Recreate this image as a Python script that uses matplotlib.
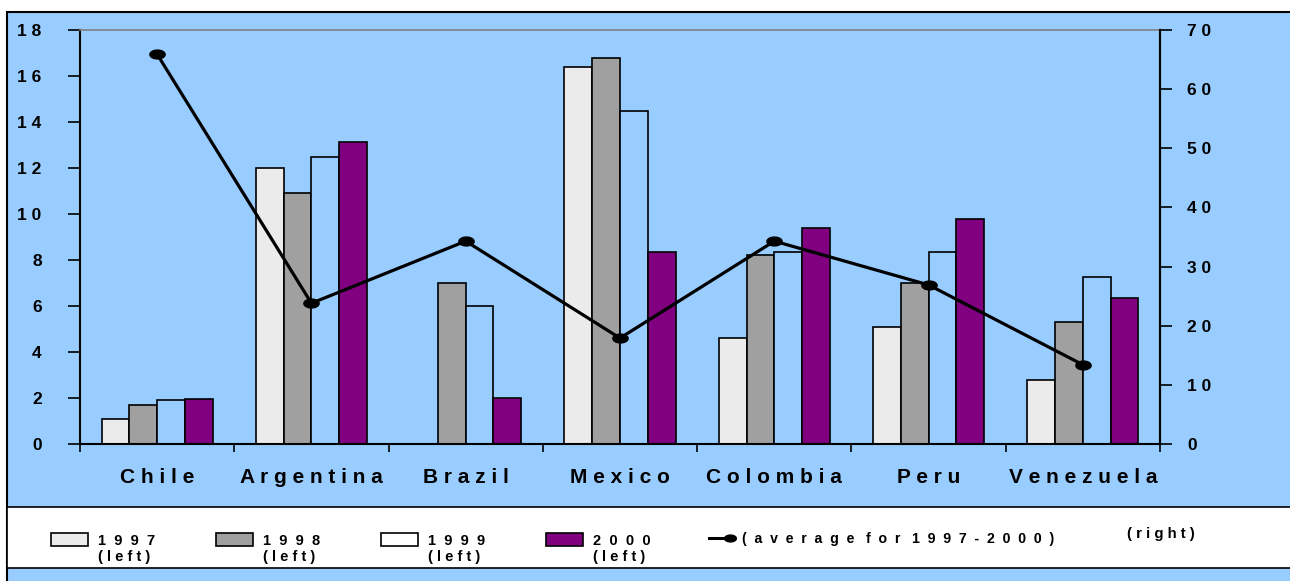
import matplotlib
matplotlib.use("Agg")
import matplotlib.pyplot as plt
from matplotlib.patches import Rectangle
from matplotlib.lines import Line2D
from matplotlib.path import Path
import numpy as np

plt.rcParams['font.family'] = ['Liberation Sans', 'DejaVu Sans']

countries = ["Chile", "Argentina", "Brazil", "Mexico", "Colombia", "Peru", "Venezuela"]
years = ["1997", "1998", "1999", "2000"]
v1997 = [1.1, 12.0, 0.0, 16.4, 4.6, 5.1, 2.8]
v1998 = [1.7, 10.9, 7.0, 16.8, 8.2, 7.0, 5.3]
v1999 = [1.9, 12.5, 6.0, 14.5, 8.35, 8.35, 7.25]
v2000 = [1.95, 13.15, 2.0, 8.35, 9.4, 9.8, 6.35]
average = [65.9, 23.8, 34.3, 17.9, 34.3, 26.9, 13.4]
left_ticks = [0, 2, 4, 6, 8, 10, 12, 14, 16, 18]
right_ticks = [0, 10, 20, 30, 40, 50, 60, 70]

BG = "#99CCFF"
colors = ["#EBEBEB", "#A0A0A0", BG, "#800080"]
series = [v1997, v1998, v1999, v2000]

# elliptical marker (wider than tall)
t = np.linspace(0, 2 * np.pi, 40)
ellipse = Path(np.column_stack([np.cos(t), 0.58 * np.sin(t)]), closed=True)

W, H = 1290, 581
fig = plt.figure(figsize=(W / 100, H / 100), dpi=100)
fig.patch.set_facecolor("white")

def fx(px):
    return px / W

def fy(py):
    return 1 - py / H

# blue panel
fig.patches.append(Rectangle((fx(7), -0.1), 1.2, fy(12) + 0.1, transform=fig.transFigure,
                             facecolor=BG, edgecolor="black", linewidth=1.5, zorder=-5))
# legend box
fig.patches.append(Rectangle((fx(7), fy(568)), 1.2, fy(507) - fy(568), transform=fig.transFigure,
                             facecolor="white", edgecolor="black", linewidth=1.2, zorder=-4))

def spaced(s, sep=" "):
    return sep.join(s)

ax = fig.add_axes([fx(80), fy(444), fx(1160) - fx(80), fy(30) - fy(444)])
ax.set_facecolor("none")
n = len(countries)
x = np.arange(n)
w = 0.18
for k, (vals, c) in enumerate(zip(series, colors)):
    ax.bar(x + (k - 1.5) * w, vals, w, color=c, edgecolor="black", linewidth=1.2, zorder=2)

ax.set_xlim(-0.5, n - 0.5)
ax.set_ylim(0, 18)
ax.set_yticks(left_ticks)
ax.set_yticklabels([spaced(str(t)) for t in left_ticks], fontsize=12.5, fontweight="bold")
ax.set_xticks(np.arange(-0.5, n, 1.0))
ax.set_xticklabels([])
ax.set_xticks(x, minor=True)
ax.set_xticklabels([spaced(c) for c in countries], minor=True, fontsize=15, fontweight="bold")
ax.tick_params(axis="x", which="major", direction="out", length=6, width=1.2)
ax.tick_params(axis="x", which="minor", length=0, pad=17)
ax.tick_params(axis="y", direction="out", length=8.6, width=1.2, pad=19)
for s in ["left", "right", "bottom"]:
    ax.spines[s].set_linewidth(1.5)
ax.spines["top"].set_color("#808080")
ax.spines["top"].set_linewidth(1.2)

ax2 = ax.twinx()
ax2.set_ylim(0, 70)
ax2.set_yticks(right_ticks)
ax2.set_yticklabels([spaced(str(t)) for t in right_ticks], fontsize=12.5, fontweight="bold")
ax2.tick_params(axis="y", direction="out", length=8.6, width=1.2, pad=11)
ax2.plot(x, average, color="black", linewidth=2.3, marker=ellipse, markersize=11, zorder=5)
for s in ax2.spines.values():
    s.set_visible(False)
ax2.spines["right"].set_visible(True)
ax2.spines["right"].set_linewidth(1.5)

# legend (manual)
leg_items = [(51, "1997"), (216, "1998"), (381, "1999"), (546, "2000")]
for (px, lab), c in zip(leg_items, colors):
    fc = "white" if lab == "1999" else c
    fig.patches.append(Rectangle((fx(px), fy(546)), fx(37), fy(533) - fy(546),
                                 transform=fig.transFigure, facecolor=fc,
                                 edgecolor="black", linewidth=1.2, zorder=3))
    fig.text(fx(px + 47), fy(541), spaced(lab, "  "), fontsize=10.5, fontweight="bold",
             va="center", ha="left")
    fig.text(fx(px + 47), fy(557), spaced("(left)", " "), fontsize=10.5, fontweight="bold",
             va="center", ha="left")

fig.lines.append(Line2D([fx(709), fx(729)], [fy(538), fy(538)], transform=fig.transFigure,
                        color="black", linewidth=2.2))
fig.lines.append(Line2D([fx(730)], [fy(538)], transform=fig.transFigure,
                        color="black", marker=ellipse, markersize=8.5))
fig.text(fx(742), fy(539), spaced("(average for 1997-2000)", "  ").replace("     ", "   "),
         fontsize=10.2, fontweight="bold", va="center", ha="left")
fig.text(fx(1127), fy(534), spaced("(right)", " "), fontsize=10.8, fontweight="bold",
         va="center", ha="left")

fig.savefig("out.png", dpi=100)
